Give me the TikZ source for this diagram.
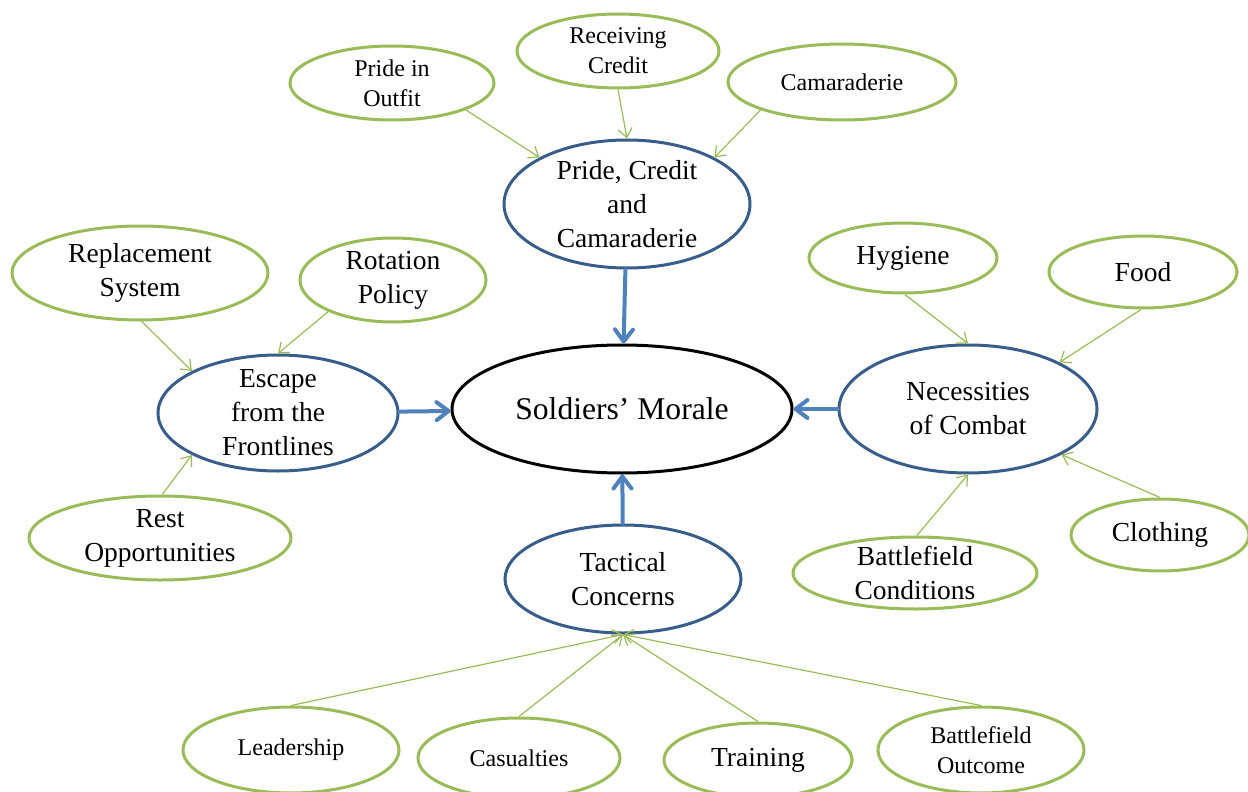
\documentclass[tikz,border=0pt]{standalone}
\usepackage{fontspec}
\setmainfont{Liberation Serif}
\usetikzlibrary{arrows.meta,shapes.geometric}

\definecolor{leafgreen}{HTML}{9BBB59}
\definecolor{topicblue}{HTML}{385D8A}
\definecolor{arrowblue}{HTML}{4F81BD}

\tikzset{
  oval/.style={ellipse, inner sep=0pt, inner ysep=-4pt, align=center, line width=1.5pt},
  moralenode/.style={oval, draw=black, font=\fontsize{15.8}{19}\selectfont},
  topicnode/.style={oval, draw=topicblue, font=\fontsize{13.75}{17}\selectfont},
  factorbig/.style={oval, draw=leafgreen, font=\fontsize{13.75}{17}\selectfont},
  factorsmall/.style={oval, draw=leafgreen, font=\fontsize{12}{15}\selectfont},
  feed/.style={leafgreen, line width=0.6pt, -{Straight Barb[length=4.5pt,width=7pt]}},
  lead/.style={arrowblue, line width=2pt, line cap=round, -{Straight Barb[length=6pt,width=9pt,round]}}
}

\begin{document}
\begin{tikzpicture}[x=0.5pt,y=-0.5pt]
\useasboundingbox (0,0) rectangle (1248,792);

\node[moralenode, minimum width=170pt, minimum height=64pt] (morale) at (622,409) {Soldiers' Morale};

\node[topicnode, minimum width=123pt, minimum height=64pt] (pride) at (627,204) {Pride, Credit\\and\\Camaraderie};
\node[topicnode, minimum width=120pt, minimum height=58pt] (escape) at (278,413) {Escape\\from the\\Frontlines};
\node[topicnode, minimum width=129pt, minimum height=64pt] (needs) at (968,409) {Necessities\\of Combat};
\node[topicnode, minimum width=118pt, minimum height=54pt] (tactics) at (623,579) {Tactical\\Concerns};

\foreach \name/\x/\y/\w/\h/\txt in {replace/140/273/128/47/Replacement\\System, rotation/393/280/93/42/Rotation\\Policy, rest/160/538/131/42/Rest\\Opportunities, hygiene/903/258/94/35/Hygiene, food/1143/272/94/36/Food, clothing/1160/535/89/36/Clothing, conditions/915/573/122/36/Battlefield\\Conditions, training/758/760/94/37/Training}
	\node[factorbig, minimum width=\w pt, minimum height=\h pt] (\name) at (\x,\y) {\txt};
\foreach \name/\x/\y/\w/\h/\txt in {outfit/392/83/102/37/Pride in\\Outfit, credit/618/51/101/37/Receiving\\Credit, camaraderie/842/82/114/38/Camaraderie, leadership/291/750/108/43/Leadership, casualties/519/758/101/40/Casualties, outcome/981/750/103/43/Battlefield\\Outcome}
	\node[factorsmall, minimum width=\w pt, minimum height=\h pt] (\name) at (\x,\y) {\txt};

\foreach \a/\b in {outfit.-20/pride.152, credit.-90/pride.90, camaraderie.-161/pride.28, replace.-88/escape.154, rotation.-154/escape.90, rest.87/escape.-154, hygiene.-87/needs.90, food.-93/needs.27, clothing.90/needs.-26, conditions.87/needs.-90, leadership.90/tactics.-90, casualties.90/tactics.-90, training.90/tactics.-90, outcome.90/tactics.-90}
	\draw[feed] (\a) -- (\b);

\draw[lead] (pride) -- (morale);
\draw[lead] (escape) -- (morale);
\draw[lead] (needs) -- (morale);
\draw[lead] (tactics) -- (morale);

\end{tikzpicture}
\end{document}
